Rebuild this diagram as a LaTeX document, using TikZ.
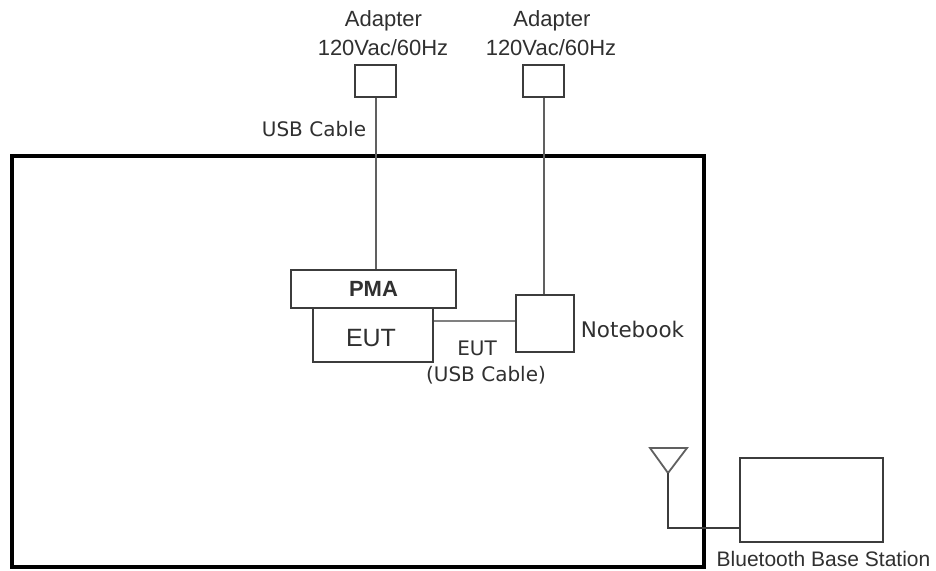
\documentclass[tikz,border=0pt]{standalone}
\usepackage{fontspec}
\setmainfont{Liberation Sans}
\newfontfamily\dv{DejaVu Sans}
\definecolor{ln}{HTML}{606060}
\definecolor{bx}{HTML}{3C3C3C}
\definecolor{tx}{HTML}{303030}
\tikzset{
 box/.style={draw=bx,line width=2pt,inner sep=0pt,fill=white},
 wire/.style={draw=ln,line width=2.4pt},
 lab/.style={inner sep=0pt,font=\fontsize{22}{26}\selectfont,text=tx},
 labd/.style={inner sep=0pt,font=\dv\fontsize{20}{24}\selectfont,text=tx},
}
\begin{document}
\begin{tikzpicture}[x=1pt,y=-1pt]
\useasboundingbox (0,0) rectangle (936,570);
\fill[white] (0,0) rectangle (936,570);
\coordinate (o1) at (12,156);
\coordinate (o2) at (704,567);
\draw[line width=4.5pt] (o1) rectangle (o2);
\node[box,minimum width=41pt,minimum height=32pt] (ad1) at (375.5,81) {};
\node[box,minimum width=41pt,minimum height=32pt] (ad2) at (543.5,81) {};
\node[box,minimum width=165pt,minimum height=38pt] (pma) at (373.5,289) {};
\node[font=\bfseries\fontsize{22}{26}\selectfont,inner sep=0pt,text=tx] (pmat) at (373.5,289) {PMA};
\node[box,minimum width=120pt,minimum height=54pt] (eut) at (373,335) {};
\node[font=\fontsize{25}{28}\selectfont,inner sep=0pt,text=tx] (eutt) at (371,338) {EUT};
\node[box,minimum width=58pt,minimum height=57pt] (nb) at (545,323.5) {};
\node[box,minimum width=143pt,minimum height=84pt] (bs) at (811.5,500) {};
\coordinate (w1) at (376,0);
\coordinate (w2) at (544,0);
\draw[wire] (w1 |- ad1.south) -- (w1 |- pma.north);
\draw[wire] (w2 |- ad2.south) -- (w2 |- nb.north);
\coordinate (w3) at (0,321);
\draw[wire,draw=ln!80] (w3 -| eut.east) -- (w3 -| nb.west);
\coordinate (anttip) at (668,473);
\coordinate (antl) at (650,448);
\coordinate (antr) at (687,448);
\coordinate (antc) at (668,528);
\draw[line width=1.8pt,draw=ln] (antl) -- (antr) -- (anttip) -- cycle;
\draw[line width=1.7pt,draw=bx] (anttip) -- (antc) -- (antc -| bs.west);
\node[lab] (a1) at (383.5,21) {Adapter};
\node[lab] (v1) at (383,48) {120Vac/60Hz};
\node[lab] (a2) at (552,21) {Adapter};
\node[lab] (v2) at (551,48) {120Vac/60Hz};
\node[labd] (usb) at (314,129) {USB Cable};
\node[labd,font=\dv\fontsize{21.5}{24}\selectfont] (nbl) at (632.5,329) {Notebook};
\node[labd] (eutl) at (477,348) {EUT};
\node[labd] (eutm) at (486,375) {(USB Cable)};
\node[lab,font=\fontsize{21}{24}\selectfont] (bsl) at (823.5,559) {Bluetooth Base Station};
\end{tikzpicture}
\end{document}
